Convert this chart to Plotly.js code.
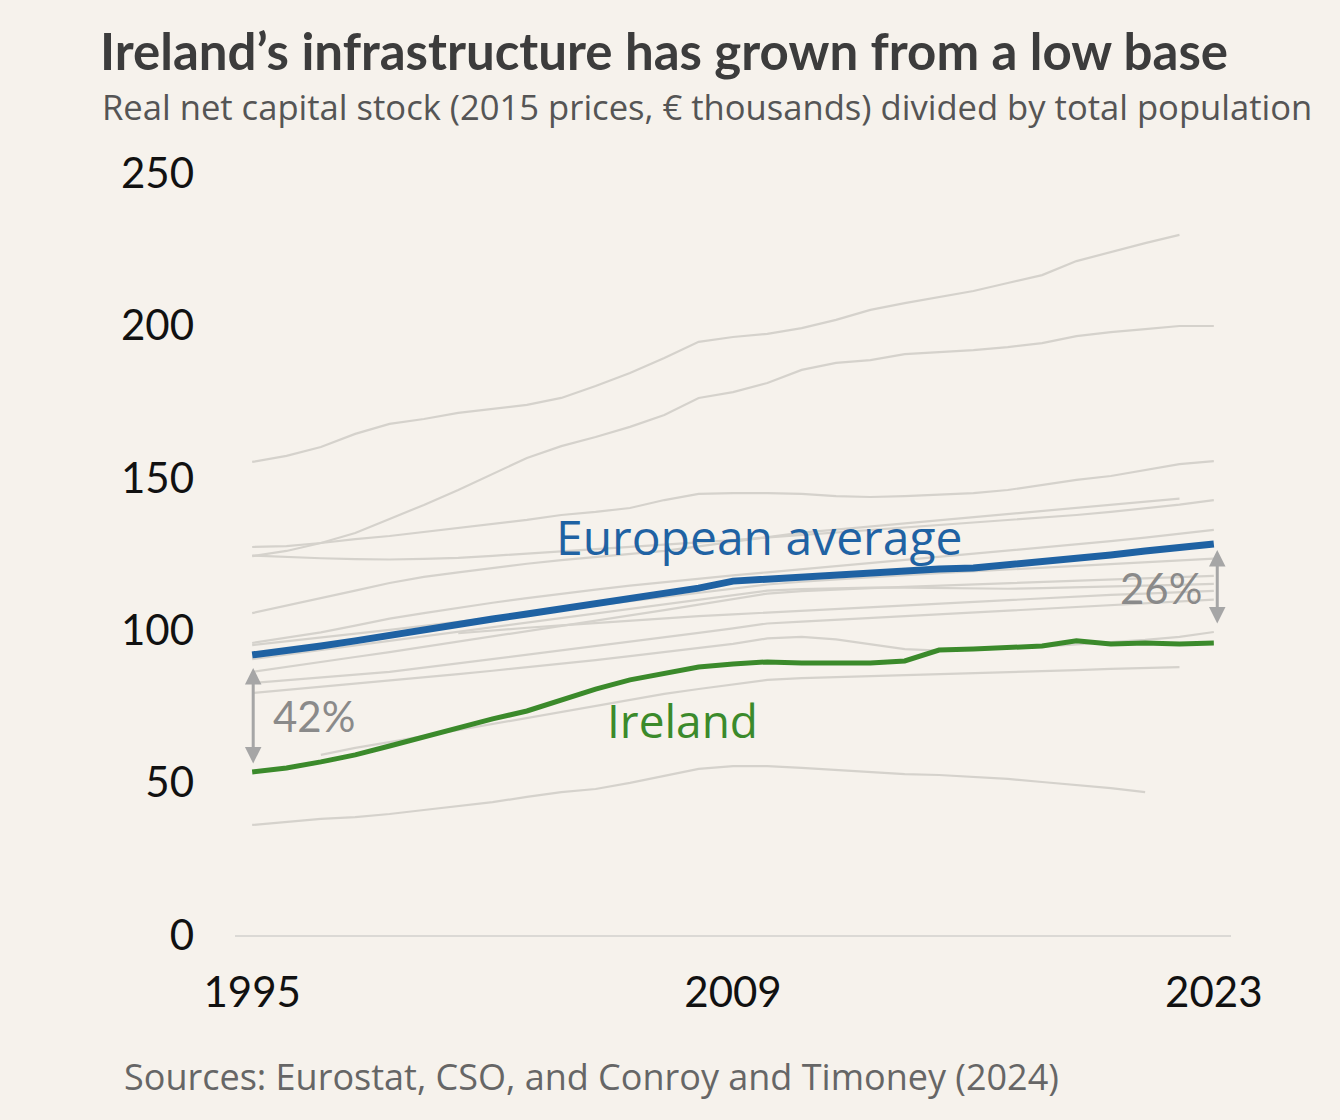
<!DOCTYPE html>
<html>
<head>
<meta charset="utf-8">
<script src="https://cdn.plot.ly/plotly-3.0.1.min.js"></script>
<style>
  html, body { margin: 0; padding: 0; background: #f6f2ec; }
  #chart { width: 1340px; height: 1120px; }
</style>
</head>
<body>
<div id="chart"></div>
<script>
// ── Data (€ thousands per person, 2015 prices) ──────────────────────────────
const YEARS = [1995, 1996, 1997, 1998, 1999, 2000, 2001, 2002, 2003, 2004,
               2005, 2006, 2007, 2008, 2009, 2010, 2011, 2012, 2013, 2014,
               2015, 2016, 2017, 2018, 2019, 2020, 2021, 2022, 2023];

const EU_AVG = [91.9, 93.2, 94.8, 96.5, 98.4, 100.4, 102.0, 103.7, 105.3, 107.0,
                108.3, 109.9, 111.9, 113.8, 116.1, 116.8, 117.5, 118.1, 118.8, 119.4,
                120.1, 120.4, 121.4, 122.4, 123.7, 124.7, 126.0, 127.3, 128.3];

const IRELAND = [53.5, 54.8, 56.8, 59.1, 62.0, 65.0, 67.9, 70.9, 73.5, 77.1,
                 80.7, 83.7, 86.0, 87.9, 88.9, 89.6, 89.2, 89.2, 89.2, 89.9,
                 93.5, 93.8, 94.2, 94.8, 96.5, 95.5, 95.8, 95.5, 95.8];

// other European countries (grey background lines)
const C1  = [155.2, 157.2, 160.1, 164.4, 167.7, 169.3, 171.3, 172.6, 173.9, 176.2,
             180.1, 184.4, 189.3, 194.6, 196.2, 197.2, 199.1, 201.8, 205.1, 207.3,
             209.3, 211.3, 213.9, 216.5, 221.1, 224.1, 227.0, 229.7, null];
const C2  = [124.3, 126.0, 128.6, 131.9, 136.5, 141.1, 146.0, 151.2, 156.5, 160.4,
             163.4, 166.7, 170.6, 176.2, 178.1, 181.1, 185.4, 187.7, 188.6, 190.6,
             191.3, 191.9, 192.9, 194.2, 196.5, 197.8, 198.8, 199.8, 199.8];
const C3  = [127.3, 127.6, 128.6, 129.9, 130.9, 132.2, 133.5, 134.8, 136.2, 137.8,
             138.8, 140.1, 142.7, 144.7, 145.0, 145.0, 144.7, 144.0, 143.7, 144.0,
             144.4, 145.0, 146.0, 147.6, 149.3, 150.6, 152.6, 154.5, 155.5];
const C4  = [105.6, 108.0, 110.5, 113.0, 115.5, 117.5, 119.0, 120.5, 121.8, 123.0,
             124.0, 125.0, 126.0, 127.5, 129.0, 130.5, 132.0, 133.0, 134.0, 135.0,
             136.0, 137.0, 138.0, 139.0, 140.0, 141.0, 142.0, 143.2, null];
const C5  = [124.5, 124.0, 123.6, 123.3, 123.2, 123.4, 123.7, 124.4, 125.1, 125.8,
             126.5, 127.2, 128.0, 128.8, 129.6, 130.4, 131.2, 132.0, 132.8, 133.6,
             134.4, 135.2, 136.0, 136.9, 137.8, 138.8, 139.9, 141.2, 142.7];
const C6  = [95.8, 97.5, 99.3, 101.5, 103.8, 105.6, 107.4, 109.0, 110.5, 112.0,
             113.3, 114.6, 115.8, 117.0, 118.0, 119.0, 120.0, 121.0, 122.0, 123.0,
             124.0, 125.0, 126.0, 127.0, 128.0, 129.2, 130.4, 131.7, 132.9];
const C7  = [95.1, 96.3, 97.5, 98.8, 100.1, 101.4, 102.7, 104.0, 105.3, 106.7,
             108.1, 109.5, 110.9, 112.3, 113.7, 115.0, 115.9, 116.7, 117.4, 118.1,
             118.7, 119.3, 119.9, 120.5, 121.1, 121.7, 122.3, 122.9, 123.5];
const C8  = [86.3, 88.0, 89.6, 91.2, 92.8, 94.5, 96.2, 97.9, 99.6, 101.3,
             103.0, 104.8, 106.6, 108.4, 110.2, 112.0, 112.8, 113.4, 113.8, 114.2,
             114.6, 115.0, 115.4, 115.8, 116.2, 116.6, 117.0, 117.4, 117.8];
const C9  = [82.7, 83.6, 84.5, 85.4, 86.3, 87.7, 89.1, 90.5, 91.9, 93.3,
             94.7, 96.1, 97.6, 99.1, 100.6, 102.2, 102.8, 103.4, 104.0, 104.6,
             105.2, 105.8, 106.4, 107.0, 107.6, 108.2, 108.8, 109.4, 110.0];
const C10 = [79.4, 80.4, 81.4, 82.4, 83.4, 84.5, 85.6, 86.7, 87.8, 89.0,
             90.2, 91.5, 92.8, 94.1, 95.5, 97.3, 97.8, 97.0, 95.5, 93.8,
             93.3, 93.6, 94.0, 94.6, 95.3, 96.0, 96.8, 97.8, 99.4];
const C11 = [null, null, null, null, null, null, 99.0, 100.0, 100.8, 101.6,
             102.4, 103.2, 103.9, 104.6, 105.2, 105.8, 106.4, 107.0, 107.6, 108.2,
             108.8, 109.4, 110.0, 110.6, 111.1, 111.6, 112.0, 112.5, 112.9];
const C12 = [90.5, 92.0, 93.5, 95.0, 96.5, 98.0, 99.5, 101.0, 102.5, 104.0,
             105.5, 107.0, 108.5, 110.0, 111.5, 113.0, 113.5, 113.8, 114.0, 114.0,
             113.8, 113.6, 113.6, 113.8, 114.0, 114.3, 114.6, 114.9, 115.2];
const C13 = [null, null, 59.1, 61.4, 63.3, 65.3, 67.3, 69.2, 71.2, 73.2,
             75.1, 77.1, 79.1, 80.7, 82.3, 83.7, 84.3, 84.6, 85.0, 85.3,
             85.6, 86.0, 86.3, 86.6, 86.9, 87.3, 87.6, 87.9, null];
const C14 = [36.1, 37.1, 38.1, 38.7, 39.7, 41.0, 42.3, 43.6, 45.3, 46.9,
             47.9, 49.9, 52.2, 54.5, 55.4, 55.4, 54.8, 54.1, 53.5, 52.8,
             52.5, 51.8, 51.2, 50.2, 49.2, 48.2, 46.9, null, null];

const OTHERS = [C1, C2, C3, C4, C5, C6, C7, C8, C9, C10, C11, C12, C13, C14];

const X_TICKS = [1995, 2009, 2023];
const Y_TICKS = [0, 50, 100, 150, 200, 250];

// ── Styles ───────────────────────────────────────────────────────────────────
const BG    = '#f6f2ec';
const GREY  = '#d5d2cc';
const BLUE  = '#1f62a3';
const GREEN = '#3b8a2b';
const ANNO  = '#a6a6a6';
const FONT  = 'Lato, "Open Sans", sans-serif';
const WIDE  = '"Open Sans", Lato, sans-serif';

const traces = OTHERS.map(v => ({
  x: YEARS, y: v, type: 'scatter', mode: 'lines',
  line: { color: GREY, width: 2.2 },
  hoverinfo: 'skip', connectgaps: false,
}));

traces.push({
  x: YEARS, y: EU_AVG, type: 'scatter', mode: 'lines',
  line: { color: BLUE, width: 7 }, hoverinfo: 'skip',
});
traces.push({
  x: YEARS, y: IRELAND, type: 'scatter', mode: 'lines',
  line: { color: GREEN, width: 5 }, hoverinfo: 'skip',
});

const first = 0;
const last = YEARS.length - 1;

// double-headed gap arrows
function gapArrow(xv, yTop, yBot) {
  return {
    x: xv, y: yTop, ax: xv, ay: yBot,
    xref: 'x', yref: 'y', axref: 'x', ayref: 'y',
    text: '', showarrow: true, arrowside: 'end+start',
    arrowhead: 2, arrowsize: 1.1, arrowwidth: 3, arrowcolor: ANNO,
  };
}

const annotations = [
  gapArrow(YEARS[first] + 0.03, EU_AVG[first] - 4.3, IRELAND[first] + 2.3),
  gapArrow(YEARS[last] + 0.1, EU_AVG[last] - 2.0, IRELAND[last] + 5.9),
  {
    x: 2009.76, y: 130.6, xref: 'x', yref: 'y', text: 'European average',
    showarrow: false, xanchor: 'center', yanchor: 'middle',
    font: { family: WIDE, size: 48, color: BLUE },
  },
  {
    x: 2007.54, y: 70.5, xref: 'x', yref: 'y', text: 'Ireland',
    showarrow: false, xanchor: 'center', yanchor: 'middle',
    font: { family: WIDE, size: 46, color: GREEN },
  },
  {
    x: 1995.55, y: 71.9, xref: 'x', yref: 'y', text: '42%',
    showarrow: false, xanchor: 'left', yanchor: 'middle',
    font: { family: FONT, size: 42, color: '#8a8a8a' },
  },
  {
    x: 2022.7, y: 113.8, xref: 'x', yref: 'y', text: '26%',
    showarrow: false, xanchor: 'right', yanchor: 'middle',
    font: { family: FONT, size: 42, color: '#8a8a8a' },
  },
  // subtitle
  {
    x: -0.1355, y: 1.0 + (173 - 107) / 762, xref: 'paper', yref: 'paper',
    text: 'Real net capital stock (2015 prices, € thousands) divided by total population',
    showarrow: false, xanchor: 'left', yanchor: 'middle',
    font: { family: WIDE, size: 34.6, color: '#555555' },
  },
  // source
  {
    x: -0.1135, y: -(1076 - 935) / 762, xref: 'paper', yref: 'paper',
    text: 'Sources: Eurostat, CSO, and Conroy and Timoney (2024)',
    showarrow: false, xanchor: 'left', yanchor: 'middle',
    font: { family: WIDE, size: 36, color: '#666666' },
  },
];

const layout = {
  width: 1340,
  height: 1120,
  paper_bgcolor: BG,
  plot_bgcolor: BG,
  showlegend: false,
  hovermode: false,
  margin: { t: 173, b: 185, l: 235, r: 109, pad: 0 },
  title: {
    text: '<b>Ireland’s infrastructure has grown from a low base</b>',
    xref: 'container', yref: 'container',
    x: 100 / 1340, xanchor: 'left',
    y: 1 - 52 / 1120, yanchor: 'middle',
    font: { family: FONT, size: 51, color: '#3c3c3c' },
  },
  xaxis: {
    range: [1994.5, 2023.5],
    tickmode: 'array', tickvals: X_TICKS, ticktext: X_TICKS.map(String),
    ticks: '', showgrid: false, zeroline: false,
    showline: true, linecolor: '#dbd9d5', linewidth: 2,
    tickfont: { family: FONT, size: 42, color: '#111111' },
    ticklabelstandoff: 20,
    fixedrange: true,
  },
  yaxis: {
    range: [0, 250],
    tickmode: 'array', tickvals: Y_TICKS, ticktext: Y_TICKS.map(String),
    ticks: '', showgrid: false, zeroline: false, showline: false,
    tickfont: { family: FONT, size: 42, color: '#111111' },
    ticklabelstandoff: 40,
    fixedrange: true,
  },
  annotations: annotations,
};

Plotly.newPlot('chart', traces, layout, { displayModeBar: false, staticPlot: true });
</script>
</body>
</html>
